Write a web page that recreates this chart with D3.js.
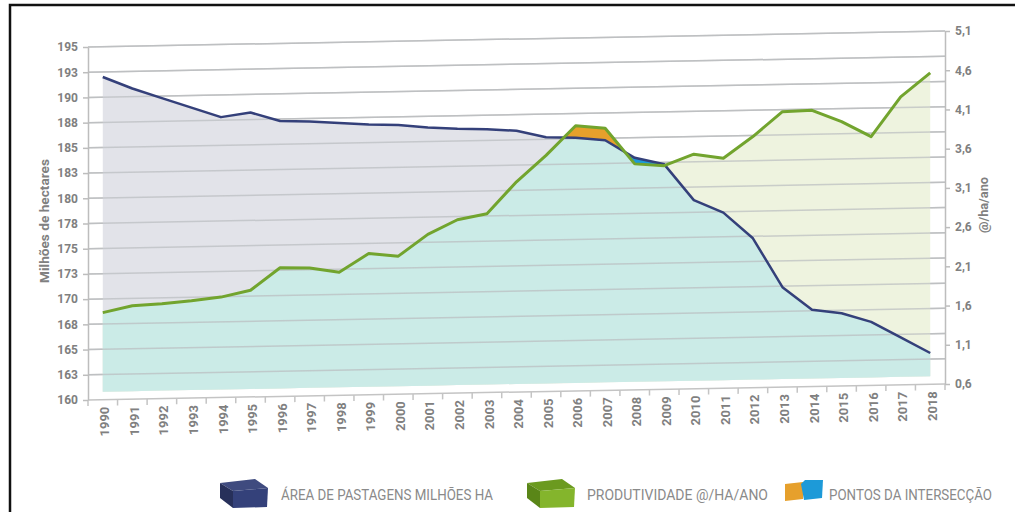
<!DOCTYPE html>
<html>
<head>
<meta charset="utf-8">
<script src="https://cdn.jsdelivr.net/npm/d3@7"></script>
<style>
   body { margin: 0; background: #fff; }
   svg { display: block; font-family: Roboto, "Open Sans", sans-serif; }
</style>
</head>
<body>
<svg id="chart" width="1017" height="512"></svg>
<script>
// DATA
var years = ['1990', '1991', '1992', '1993', '1994', '1995', '1996', '1997', '1998', '1999',
   '2000', '2001', '2002', '2003', '2004', '2005', '2006', '2007', '2008', '2009',
   '2010', '2011', '2012', '2013', '2014', '2015', '2016', '2017', '2018'];

// área de pastagens, milhões de ha (left axis)
var pastagens = [192.0, 190.8, 189.8, 188.8, 187.8, 188.2, 187.3, 187.2, 187.0, 186.8,
   186.7, 186.4, 186.2, 186.1, 185.9, 185.2, 185.1, 184.8, 183.0, 182.3,
   178.7, 177.4, 174.8, 169.9, 167.6, 167.2, 166.3, 164.7, 163.1];

// produtividade, @/ha/ano (right axis)
var produtividade = [1.71, 1.79, 1.81, 1.84, 1.88, 1.96, 2.24, 2.23, 2.17, 2.40,
   2.36, 2.63, 2.81, 2.88, 3.28, 3.61, 3.98, 3.94, 3.48, 3.45,
   3.59, 3.53, 3.80, 4.11, 4.12, 3.97, 3.77, 4.27, 4.57];

var leftTicks = [160, 162.5, 165, 167.5, 170, 172.5, 175, 177.5, 180, 182.5, 185, 187.5, 190, 192.5, 195];
var rightTicks = [0.6, 1.1, 1.6, 2.1, 2.6, 3.1, 3.6, 4.1, 4.6, 5.1];

var leftTitle = 'Milhões de hectares';
var rightTitle = '@/ha/ano';
var legendLabels = ['ÁREA DE PASTAGENS MILHÕES HA', 'PRODUTIVIDADE @/HA/ANO', 'PONTOS DA INTERSECÇÃO'];

// LAYOUT
var svg = d3.select('#chart');
var plotLeft = 88, plotRight = 945, plotTop = 47, plotBottom = 400;
var skew = 16 / 857;      // the back wall leans up to the right
var depth = 8;            // areas float slightly above the floor

function lift(px) {
   return -skew * (px - plotLeft);
}

var x = d3.scaleBand().domain(years).range([plotLeft, plotRight]);
var yL = d3.scaleLinear().domain([160, 195]).range([plotBottom, plotTop]);
var yR = d3.scaleLinear().domain([0.6, 5.1]).range([plotBottom, plotTop]);

var textGrey = '#808080';

// frame
svg.append('path')
   .attr('d', 'M10,512V5H1015')
   .attr('fill', 'none')
   .attr('stroke', '#111')
   .attr('stroke-width', 2.5);

var plot = svg.append('g')
   .attr('transform', 'matrix(1,' + (-skew) + ',0,1,0,' + (skew * plotLeft) + ')');

// gridlines
plot.append('g').selectAll('line')
   .data(leftTicks.slice(1))
   .enter().append('line')
   .attr('x1', plotLeft).attr('x2', plotRight)
   .attr('y1', yL).attr('y2', yL)
   .attr('stroke', '#cacaca')
   .attr('stroke-width', 1.5);

// points in (unskewed) pixel space
var pts = years.map(function (yr, i) {
   return {x: x(yr) + x.bandwidth() / 2, n: yL(pastagens[i]), g: yR(produtividade[i])};
});

// add crossing points of the two lines
var merged = [], crossings = [];
pts.forEach(function (p, i) {
   merged.push(p);
   var q = pts[i + 1];
   if (!q) return;
   var d0 = p.n - p.g, d1 = q.n - q.g;
   if (d0 * d1 < 0) {
      var t = d0 / (d0 - d1);
      var c = {x: p.x + t * (q.x - p.x), n: p.n + t * (q.n - p.n)};
      c.g = c.n;
      merged.push(c);
      crossings.push(c);
   }
});

var floor = yL(160) - depth;

function areaTo(key) {
   return d3.area().x(function (d) { return d.x; }).y0(floor).y1(key);
}

plot.append('path').datum(pts)
   .attr('d', areaTo(function (d) { return d.n; }))
   .attr('fill', '#e2e3e9');

plot.append('path').datum(pts)
   .attr('d', areaTo(function (d) { return d.g; }))
   .attr('fill', '#eef3df');

plot.append('path').datum(merged)
   .attr('d', areaTo(function (d) { return Math.max(d.n, d.g); }))
   .attr('fill', '#cbebe7');

// gridlines again, faintly, over the fills
plot.append('g').selectAll('line')
   .data(leftTicks.slice(1))
   .enter().append('line')
   .attr('x1', plotLeft).attr('x2', plotRight)
   .attr('y1', yL).attr('y2', yL)
   .attr('stroke', '#b9bcbf')
   .attr('stroke-opacity', 0.7)
   .attr('stroke-width', 1.5);

// intersection patches
var between = d3.area()
   .x(function (d) { return d.x; })
   .y0(function (d) { return d.n; })
   .y1(function (d) { return d.g; });

function slice(a, b) {
   return merged.filter(function (d) { return d.x >= a.x && d.x <= b.x; });
}

if (crossings.length >= 2) {
   plot.append('path').datum(slice(crossings[0], crossings[1]))
      .attr('d', between).attr('fill', '#e6a02c');
}
if (crossings.length >= 3) {
   plot.append('path').datum(slice(crossings[1], crossings[2]))
      .attr('d', between).attr('fill', '#1d9ad8');
}

// lines
plot.append('path').datum(pts)
   .attr('d', d3.line().x(function (d) { return d.x; }).y(function (d) { return d.n; }))
   .attr('fill', 'none')
   .attr('stroke', '#34407a')
   .attr('stroke-width', 2.5)
   .attr('stroke-linejoin', 'round');

plot.append('path').datum(pts)
   .attr('d', d3.line().x(function (d) { return d.x; }).y(function (d) { return d.g; }))
   .attr('fill', 'none')
   .attr('stroke', '#72a42e')
   .attr('stroke-width', 3)
   .attr('stroke-linejoin', 'round');

// x axis (floor edge) with ticks at band edges
plot.append('line')
   .attr('x1', plotLeft).attr('x2', plotRight)
   .attr('y1', yL(160)).attr('y2', yL(160))
   .attr('stroke', '#c4c4c4')
   .attr('stroke-width', 1.5);

var edges = years.map(function (yr) { return x(yr); }).concat([x.range()[1]]);
plot.append('g').selectAll('line')
   .data(edges)
   .enter().append('line')
   .attr('x1', function (d) { return d; }).attr('x2', function (d) { return d; })
   .attr('y1', yL(160)).attr('y2', yL(160) + 6)
   .attr('stroke', '#c4c4c4')
   .attr('stroke-width', 1.5);

// year labels (kept unskewed)
svg.append('g').selectAll('text')
   .data(years)
   .enter().append('text')
   .attr('transform', function (d) {
      var cx = x(d) + x.bandwidth() / 2 + 2;
      return 'translate(' + cx + ',' + (yL(160) + 7 + lift(cx)) + ') rotate(-90)';
   })
   .attr('text-anchor', 'end')
   .attr('dy', '0.35em')
   .attr('fill', textGrey)
   .style('font-size', '13px')
   .style('font-weight', 'bold')
   .text(function (d) { return d; });

// left axis
var leftAxis = svg.append('g')
   .attr('transform', 'translate(' + plotLeft + ',0)')
   .call(d3.axisLeft(yL)
      .tickValues(leftTicks)
      .tickSize(5)
      .tickSizeOuter(0)
      .tickPadding(5)
      .tickFormat(function (d) { return Math.round(d); }));

// right axis
var rightAxis = svg.append('g')
   .attr('transform', 'translate(' + plotRight + ',' + lift(plotRight) + ')')
   .call(d3.axisRight(yR)
      .tickValues(rightTicks)
      .tickSize(5)
      .tickSizeOuter(0)
      .tickPadding(5)
      .tickFormat(function (d) { return d3.format('.1f')(d).replace('.', ','); }));

[leftAxis, rightAxis].forEach(function (axis) {
   axis.select('.domain').attr('stroke', '#bdbdbd').attr('stroke-width', 1.5);
   axis.selectAll('.tick line').attr('stroke', '#bdbdbd').attr('stroke-width', 1.5);
   axis.selectAll('.tick text')
      .attr('fill', textGrey)
      .style('font-size', '12px')
      .style('font-weight', 'bold')
      .style('font-family', 'Roboto, sans-serif');
});

// axis titles
svg.append('text')
   .attr('transform', 'translate(49,221) rotate(-90)')
   .attr('text-anchor', 'middle')
   .attr('fill', textGrey)
   .attr('textLength', 124)
   .attr('lengthAdjust', 'spacingAndGlyphs')
   .style('font-size', '13px')
   .style('font-weight', 'bold')
   .text(leftTitle);

svg.append('text')
   .attr('transform', 'translate(988,205) rotate(-90)')
   .attr('text-anchor', 'middle')
   .attr('fill', textGrey)
   .attr('textLength', 56)
   .attr('lengthAdjust', 'spacingAndGlyphs')
   .style('font-size', '13px')
   .style('font-weight', 'bold')
   .text(rightTitle);

// LEGEND
function box(g, ox, oy, colors) {
   var shape = [
      {pts: [[0, 4], [35, 0], [48, 9], [13, 12]], fill: colors[0]},      // top
      {pts: [[13, 12], [48, 9], [47, 28], [13, 29]], fill: colors[1]},   // front
      {pts: [[0, 4], [13, 12], [13, 29], [0, 19]], fill: colors[2]}      // side
   ];
   g.selectAll(null)
      .data(shape)
      .enter().append('polygon')
      .attr('points', function (d) {
         return d.pts.map(function (p) { return (ox + p[0]) + ',' + (oy + p[1]); }).join(' ');
      })
      .attr('fill', function (d) { return d.fill; });
}

var legend = svg.append('g').attr('class', 'legend');

box(legend, 220, 479, ['#3f4b7f', '#34417a', '#27305a']);
box(legend, 527, 479, ['#6b9a1f', '#84b52c', '#5a8618']);

legend.append('polygon')
   .attr('points', '785,484 803,482 803,499 785,501')
   .attr('fill', '#e6a02c');
legend.append('polygon')
   .attr('points', '801,484 805,480 823,480 822,498 804,500')
   .attr('fill', '#1d9ad8');

var legendSpec = [
   {x: 281, w: 212},
   {x: 587, w: 181},
   {x: 829, w: 163}
];

legend.selectAll('text')
   .data(legendLabels)
   .enter().append('text')
   .attr('x', function (d, i) { return legendSpec[i].x; })
   .attr('y', 500)
   .attr('textLength', function (d, i) { return legendSpec[i].w; })
   .attr('lengthAdjust', 'spacingAndGlyphs')
   .attr('fill', '#8a8a8a')
   .style('font-size', '15px')
   .text(function (d) { return d; });
</script>
</body>
</html>
